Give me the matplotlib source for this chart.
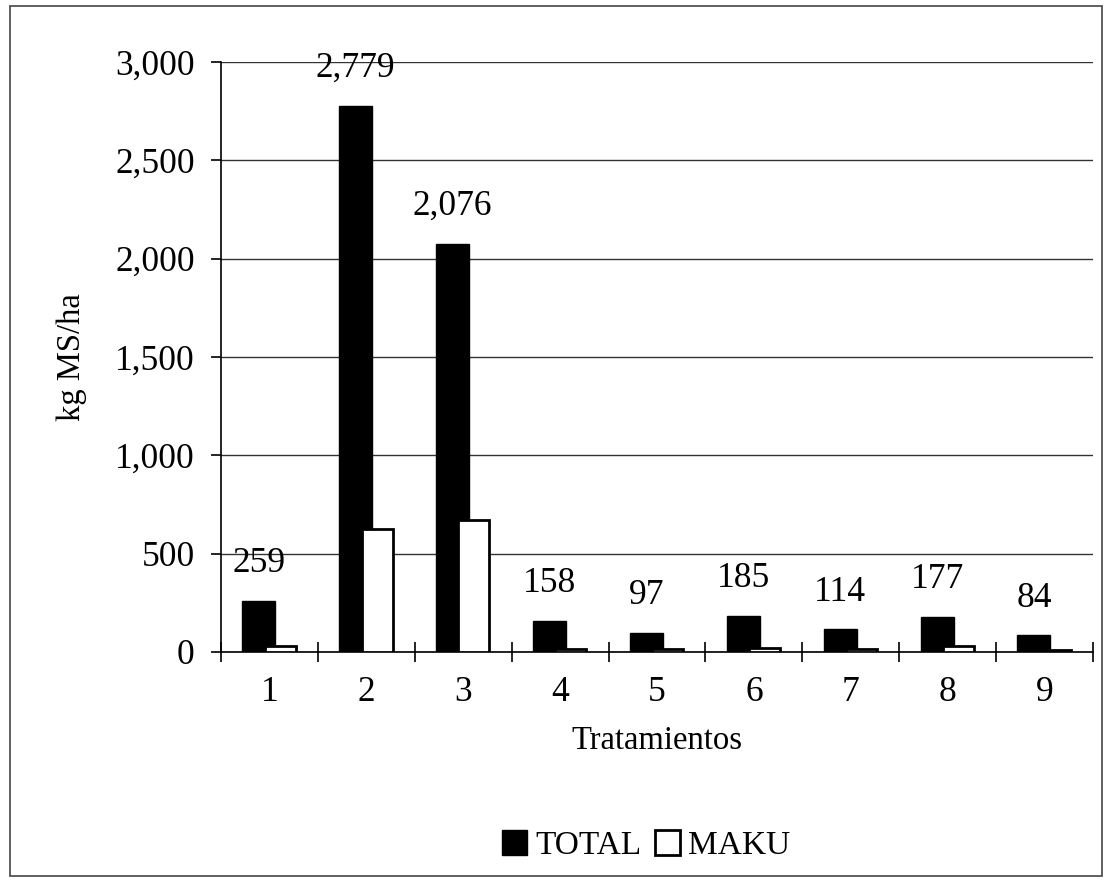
import matplotlib
matplotlib.use("Agg")
import matplotlib.pyplot as plt
import numpy as np
from matplotlib.patches import Rectangle
from matplotlib.ticker import FuncFormatter, FixedLocator, MultipleLocator

plt.rcParams['font.family'] = ['Liberation Serif', 'DejaVu Serif']

tratamientos = ['1', '2', '3', '4', '5', '6', '7', '8', '9']
total = [259, 2779, 2076, 158, 97, 185, 114, 177, 84]
maku = [30, 625, 671, 13, 14, 20, 15, 28, 8]

fig = plt.figure(figsize=(11.08, 8.93), dpi=100)
ax = fig.add_axes([0.1995, 0.270, 0.787, 0.6605])

x = np.arange(1, len(tratamientos) + 1)
w = 0.34
off = 0.11

b_total = ax.bar(x - off, total, w, color='black', edgecolor='black', linewidth=1.0,
                 label='TOTAL', zorder=3)
b_maku = ax.bar(x + off, maku, 0.32, color='white', edgecolor='black', linewidth=2.0,
                label='MAKU', zorder=4)

# value labels over the TOTAL bars
for xi, v in zip(x - off, total):
    ax.annotate(f'{v:,}', (xi, v), xytext=(0, 15), textcoords='offset points',
                ha='center', va='bottom', fontsize=25.5)

ax.set_xlim(0.5, len(tratamientos) + 0.5)
ax.set_ylim(0, 3000)
ax.yaxis.set_major_locator(MultipleLocator(500))
ax.yaxis.set_major_formatter(FuncFormatter(lambda v, p: f'{int(v):,}'))
ax.grid(axis='y', color='#333333', linewidth=1.0, zorder=0)

# category boundaries as ticks, numbers centred under each group
ax.xaxis.set_major_locator(FixedLocator(np.arange(0.5, len(tratamientos) + 1, 1)))
ax.xaxis.set_major_formatter(plt.NullFormatter())
ax.xaxis.set_minor_locator(FixedLocator(x))
ax.set_xticklabels(tratamientos, minor=True)
ax.tick_params(axis='x', which='major', direction='inout', length=14, width=1.2)
ax.tick_params(axis='x', which='minor', length=0, pad=17, labelsize=25.5)
ax.tick_params(axis='y', direction='out', length=7, width=1.2, pad=12, labelsize=25.5)

for s in ['top', 'right']:
    ax.spines[s].set_visible(False)
ax.spines['left'].set_linewidth(1.2)
ax.spines['bottom'].set_linewidth(1.2)

ax.set_ylabel('kg MS/ha', fontsize=23.5, labelpad=20)
ax.set_xlabel('Tratamientos', fontsize=23.5, labelpad=12)

fig.legend(handles=[b_total, b_maku], labels=['TOTAL', 'MAKU'], loc='center',
           bbox_to_anchor=(0.583, 0.053), ncol=2, frameon=False, fontsize=24,
           handlelength=0.75, handleheight=0.75, handletextpad=0.25,
           columnspacing=0.4)

# outer chart frame
fig.patches.append(Rectangle((0.009, 0.019), 0.986, 0.974, transform=fig.transFigure,
                             fill=False, edgecolor='#444444', linewidth=1.2))

fig.savefig('out.png', dpi=100, facecolor='white')
